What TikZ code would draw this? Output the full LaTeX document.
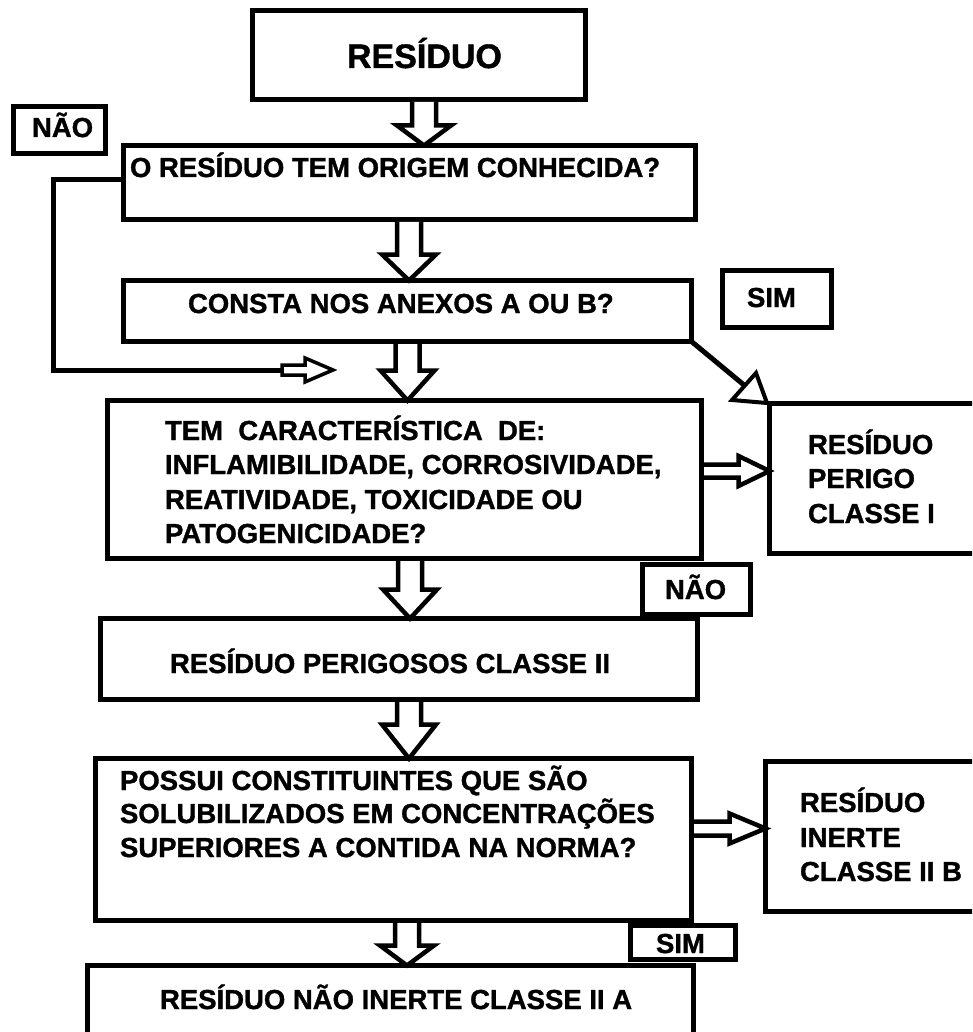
\documentclass[tikz,border=0pt]{standalone}
\usepackage{fontspec}
\setmainfont{Liberation Sans}[BoldFeatures={FakeBold=1.2}]
\usetikzlibrary{calc}
\tikzset{
 box/.style={draw, line width=5pt, fill=white, inner sep=0pt, outer sep=0pt, line join=miter},
 txt/.style={font=\fontsize{27.5}{33}\selectfont\bfseries, inner sep=0pt, outer sep=0pt, anchor=base west},
 bigtxt/.style={font=\fontsize{34}{40}\selectfont\bfseries, inner sep=0pt, outer sep=0pt, anchor=base west},
 blockar/.style={draw=black, fill=white, line width=4.5pt, line join=miter, miter limit=10},
 conn/.style={line width=5pt, line join=miter},
}
\newcommand\vblock[4]{%
 \filldraw[blockar] let \p1=(#1), \p2=(#2) in
 (#3pt-12pt,\y1-2.5pt) -- (#3pt-12pt,\y2+#4pt) -- (#3pt-27pt,\y2+#4pt) -- (#3pt,\y2)
 -- (#3pt+27pt,\y2+#4pt) -- (#3pt+12pt,\y2+#4pt) -- (#3pt+12pt,\y1-2.5pt);
}
\newcommand\hblock[6]{%
 \filldraw[blockar] let \p1=(#1), \p2=(#2) in
 (\x1+2.5pt,-#3pt+#4pt) -- (\x2-#6pt,-#3pt+#4pt) -- (\x2-#6pt,-#3pt+#5pt) -- (\x2,-#3pt)
 -- (\x2-#6pt,-#3pt-#5pt) -- (\x2-#6pt,-#3pt-#4pt) -- (\x1+2.5pt,-#3pt-#4pt);
}
\begin{document}
\begin{tikzpicture}[x=1pt,y=-1pt]
\clip (0,0) rectangle (972,1032);
\fill[white] (0,0) rectangle (972,1032);

% boxes
\node[box, minimum width=333pt, minimum height=89pt] (b1) at (419,55) {};
\node[box, minimum width=572pt, minimum height=74pt] (b2) at (409.5,182.5) {};
\node[box, minimum width=568pt, minimum height=61pt] (b3) at (407.5,311) {};
\node[box, minimum width=594pt, minimum height=158pt] (b4) at (404.5,479.5) {};
\node[box, minimum width=218pt, minimum height=150pt] (p1) at (878.5,478.5) {};
\node[box, minimum width=597pt, minimum height=81pt] (b5) at (399,659) {};
\node[box, minimum width=596pt, minimum height=162pt] (b6) at (393.5,839.5) {};
\node[box, minimum width=222pt, minimum height=150pt] (iib) at (876.5,836.5) {};
\node[box, minimum width=606pt, minimum height=82pt] (b7) at (390.5,1006.5) {};
\node[box, minimum width=92pt, minimum height=47pt] (nao1) at (59.5,130) {};
\node[box, minimum width=109pt, minimum height=57pt] (sim1) at (777,299) {};
\node[box, minimum width=108pt, minimum height=50pt] (nao2) at (696.5,589.5) {};
\node[box, minimum width=105pt, minimum height=34pt] (sim2) at (683,942.5) {};

% texts
\node[bigtxt] (t1) at (347,68) {RESÍDUO};
\node[txt] (t2) at (130,177) {O RESÍDUO TEM ORIGEM CONHECIDA?};
\node[txt] (t3) at (188,313) {CONSTA NOS ANEXOS A OU B?};
\node[txt] (t4a) at (165,440) {TEM\ \ CARACTERÍSTICA\ \ DE:};
\node[txt] (t4b) at (165,474) {INFLAMIBILIDADE, CORROSIVIDADE,};
\node[txt] (t4c) at (165,509) {REATIVIDADE, TOXICIDADE OU};
\node[txt] (t4d) at (165,543) {PATOGENICIDADE?};
\node[txt] (p1a) at (808,454) {RESÍDUO};
\node[txt] (p1b) at (808,488) {PERIGO};
\node[txt] (p1c) at (808,523) {CLASSE I};
\node[txt] (t5) at (170,673) {RESÍDUO PERIGOSOS CLASSE II};
\node[txt] (t6a) at (120,790) {POSSUI CONSTITUINTES QUE SÃO};
\node[txt] (t6b) at (120,823) {SOLUBILIZADOS EM CONCENTRAÇÕES};
\node[txt] (t6c) at (120,857) {SUPERIORES A CONTIDA NA NORMA?};
\node[txt] (iia) at (800,812) {RESÍDUO};
\node[txt] (iibt) at (800,847) {INERTE};
\node[txt] (iic) at (800,881) {CLASSE II B};
\node[txt] (t7) at (160,1009) {RESÍDUO NÃO INERTE CLASSE II A};
\node[txt] (n1) at (32,137) {NÃO};
\node[txt] (s1) at (747,307) {SIM};
\node[txt] (n2) at (665,599) {NÃO};
\node[txt] (s2) at (656,953) {SIM};

% vertical block arrows
\vblock{b1.south}{b2.north}{424}{20}
\vblock{b2.south}{b3.north}{409}{26}
\vblock{b3.south}{b4.north}{407.5}{30}
\vblock{b4.south}{b5.north}{410}{29}
\vblock{b5.south}{b6.north}{409}{34}
\vblock{b6.south}{b7.north}{407}{20}

% horizontal block arrows
\hblock{b4.east}{p1.west}{471}{6.5}{15}{31}
\hblock{b6.east}{iib.west}{828.5}{7}{15}{36}

% loop from "origem" box
\coordinate (la) at (282,370);
\coordinate (lt) at (333,370);
\draw[conn] ([yshift=2.5pt]b2.west) -| (53,370) -- (la);
\filldraw[blockar, line width=3.5pt] let \p1=(la), \p2=(lt) in
 (\x1,\y1+5pt) -- (\x2-28pt,\y1+5pt) -- (\x2-28pt,\y1+12pt) -- (\x2,\y2)
 -- (\x2-28pt,\y1-12pt) -- (\x2-28pt,\y1-5pt) -- (\x1,\y1-5pt) -- cycle;

% diagonal arrow to class I
\coordinate (dg) at (750,390);
\coordinate (tr1) at (732,400);
\coordinate (tr2) at (756,373);
\coordinate (tr3) at (767,403);
\draw[conn] (b3.south east) -- (dg);
\filldraw[blockar, line width=4pt] (tr1) -- (tr2) -- (tr3) -- cycle;
\end{tikzpicture}
\end{document}
